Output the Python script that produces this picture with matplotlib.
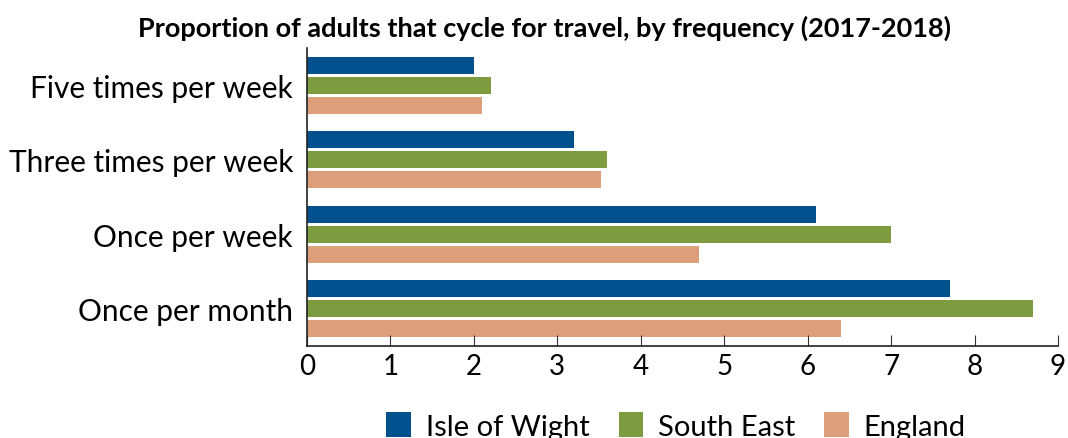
import matplotlib
matplotlib.use("Agg")
import matplotlib.pyplot as plt
import numpy as np

plt.rcParams['font.family'] = ['Lato', 'DejaVu Sans']

categories = ["Five times per week", "Three times per week", "Once per week", "Once per month"]
series_names = ["Isle of Wight", "South East", "England"]
isle_of_wight = [2.0, 3.2, 6.1, 7.7]
south_east = [2.2, 3.6, 7.0, 8.7]
england = [2.1, 3.52, 4.7, 6.4]
colors = ["#00518E", "#7D9C3F", "#DC9E7B"]
x_ticks = list(range(0, 10))

fig = plt.figure(figsize=(10.68, 4.39), dpi=100)
ax = fig.add_axes([307/1068, 1-347/439, (1058-307)/1068, (347-49)/439])

y = np.arange(len(categories))
bh = 0.227
off = 0.267
for i, (vals, name, c) in enumerate(zip([isle_of_wight, south_east, england], series_names, colors)):
    ax.barh(y + (i - 1) * off, vals, height=bh, color=c, label=name)

ax.set_ylim(3.5, -0.5)
ax.set_xlim(0, 9)
ax.set_yticks(y)
ax.set_yticklabels(categories, fontsize=21.5)
ax.set_xticks(x_ticks)
ax.set_xticklabels([str(t) for t in x_ticks], fontsize=20)
ax.tick_params(axis='y', length=0, pad=10)
ax.tick_params(axis='x', direction='in', length=8, color='#333333', pad=5)
for s in ['top', 'right']:
    ax.spines[s].set_visible(False)
for s in ['left', 'bottom']:
    ax.spines[s].set_color('#222222')
    ax.spines[s].set_linewidth(1.2)

fig.text(544/1068, 1-28/439, "Proportion of adults that cycle for travel, by frequency (2017-2018)",
         ha='center', va='center', fontsize=19.5, fontweight='bold')

fig.legend(loc='center', bbox_to_anchor=(676/1068, 1-427/439), ncol=3, frameon=False,
           fontsize=21, handlelength=0.85, handleheight=0.9, columnspacing=1.0, handletextpad=0.5)

fig.savefig("out.png", dpi=100)
